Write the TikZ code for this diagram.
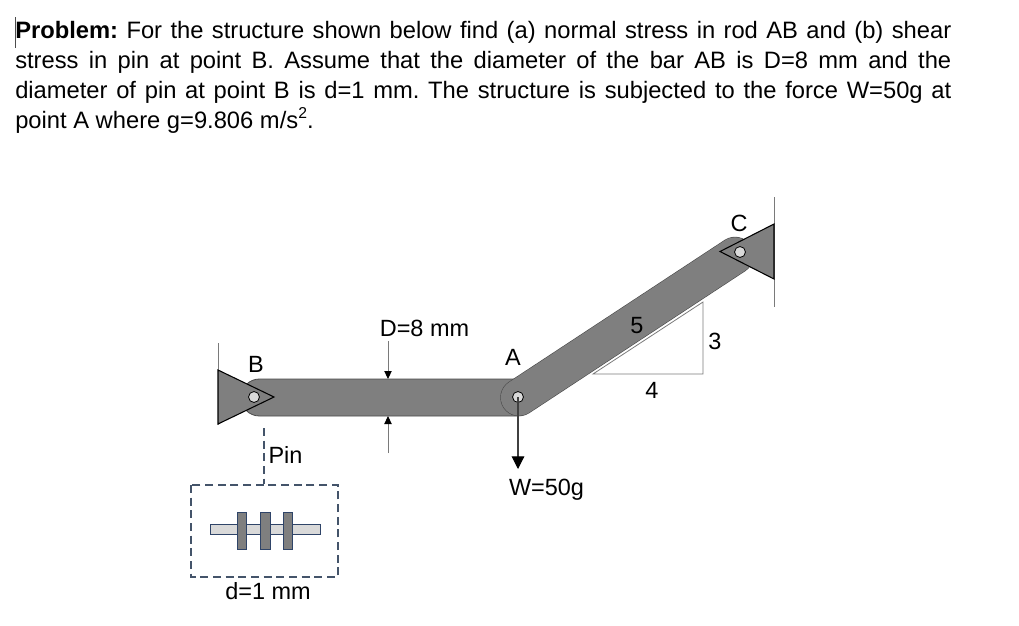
\documentclass[tikz,border=0pt]{standalone}
\usepackage{fontspec}
\setmainfont{Liberation Sans}
\usetikzlibrary{arrows.meta}
\definecolor{rodgray}{HTML}{7F7F7F}
\definecolor{rodedge}{HTML}{4A4A4A}
\definecolor{pinfill}{HTML}{D9D9D9}
\definecolor{navyedge}{HTML}{44546A}
\definecolor{plateedge}{HTML}{2F4468}
\definecolor{thin}{HTML}{7A7A7A}
\frenchspacing
\tikzset{
  x=0.75pt,y=-0.75pt,
  txt/.style={inner sep=0pt,anchor=base,font=\fontsize{17.6}{20}\selectfont,text=black},
  para/.style={inner sep=0pt,anchor=base west,font=\fontsize{17.8}{20}\selectfont,text=black},
  rodbar/.style={fill=rodgray,draw=rodedge,line width=0.6pt},
  support/.style={fill=rodgray,draw=black,line width=0.8pt,line join=miter},
  hole/.style={circle,minimum size=8.2pt,inner sep=0pt,fill=pinfill,draw=black,line width=0.6pt},
  wallline/.style={draw=thin,line width=0.7pt},
  dimarrow/.style={draw=thin,line width=0.7pt,-{Triangle[length=6pt,width=5.5pt,color=black]}},
  loadarrow/.style={draw=black!75,line width=0.8pt,-{Triangle[length=9.5pt,width=9.5pt,color=black]}},
  slope/.style={draw=thin,line width=0.6pt},
  boxdash/.style={draw=navyedge,line width=0.8pt,dash pattern=on 6pt off 3.5pt},
  pinbar/.style={fill=pinfill,draw=plateedge,line width=0.7pt},
  plate/.style={fill=rodgray,draw=plateedge,line width=0.7pt},
}
\newcommand{\parline}[1]{\hbox to 702pt{\spaceskip=0.278em plus 1fil\relax #1}}
\begin{document}
\begin{tikzpicture}
\useasboundingbox[fill=white] (0,0) rectangle (1019,625);
% problem text
\node[para] (l1) at (15,38) {\parline{\textbf{Problem:} For the structure shown below find (a) normal stress in rod AB and (b) shear}};
\node[para] (l2) at (15,68) {\parline{stress in pin at point B. Assume that the diameter of the bar AB is D=8 mm and the}};
\node[para] (l3) at (15,98) {\parline{diameter of pin at point B is d=1 mm. The structure is subjected to the force W=50g at}};
\node[para] (l4) at (15,128) {point A where g=9.806 m/s\raisebox{0.42em}{\fontsize{11.8}{12}\selectfont 2}.};
\coordinate (caretT) at (15,17);
\coordinate (caretB) at (15,48);
\draw[draw=black!70,line width=0.7pt] (caretT) -- (caretB);
% key points
\coordinate (B) at (254,397);
\coordinate (A) at (518,397);
\coordinate (C) at (740,252);
\coordinate (rodA) at (519,397.5);
\coordinate (rodC) at (735,255.5);
% walls
\coordinate (wbT) at (218,343);
\coordinate (wbB) at (218,425);
\coordinate (wcT) at (774,197);
\coordinate (wcB) at (774,307);
\draw[wallline] (wbT) -- (wbB);
\draw[wallline] (wcT) -- (wcB);
% slope triangle
\coordinate (s1) at (593,374);
\coordinate (s2) at (703,374);
\coordinate (s3) at (703,302);
\draw[slope] (s1) -- (s2) -- (s3) -- cycle;
% rods
\draw[rodbar,rounded corners=13.8pt] (241,379) rectangle (535,416);
\draw[line width=28.1pt,line cap=round,draw=rodedge] (rodA) -- (rodC);
\draw[line width=27.2pt,line cap=round,draw=rodgray] (rodA) -- (rodC);
% supports
\draw[support] (218,370) -- (274,397) -- (218,424) -- cycle;
\draw[support] (774,224) -- (720,251.5) -- (774,279) -- cycle;
% pins
\node[hole] (pB) at (B) {};
\node[hole] (pA) at (A) {};
\node[hole] (pC) at (C) {};
% dimension arrows
\coordinate (dT) at (388,341);
\coordinate (dTe) at (388,379);
\coordinate (dB) at (388,453);
\coordinate (dBe) at (388,416);
\draw[dimarrow] (dT) -- (dTe);
\draw[dimarrow] (dB) -- (dBe);
% load
\coordinate (W) at (518,469);
\draw[loadarrow] (pA.center) -- (W);
% pin detail
\coordinate (pinT) at (264,428);
\coordinate (pinB) at (264,484);
\draw[boxdash] (pinT) -- (pinB);
\draw[boxdash] (191,485) rectangle (338,577);
\draw[pinbar] (210,524) rectangle (320,534);
\draw[plate] (237,512) rectangle (246,549);
\draw[plate] (260.5,512) rectangle (270,549);
\draw[plate] (283,512) rectangle (292,549);
% labels
\node[txt] (tB) at (256,372) {B};
\node[txt] (tA) at (513,365.5) {A};
\node[txt] (tC) at (739,231) {C};
\node[txt] (tD) at (424.5,336) {D=8 mm};
\node[txt] (t5) at (637,333) {5};
\node[txt] (t3) at (715,349) {3};
\node[txt] (t4) at (652,398) {4};
\node[txt] (tP) at (285.5,463) {Pin};
\node[txt] (tW) at (546.5,495) {W=50g};
\node[txt] (td) at (268,599) {d=1 mm};
\end{tikzpicture}
\end{document}
